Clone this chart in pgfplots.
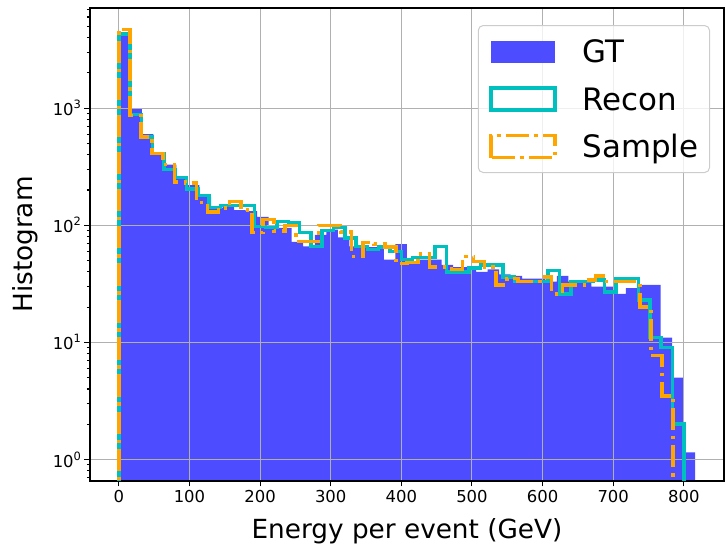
\documentclass[border=0pt]{standalone}
\usepackage{fontspec}
\setmainfont{DejaVu Sans}
\usepackage{pgfplots}
\pgfplotsset{compat=1.18}
\definecolor{gtblue}{RGB}{77,77,255}
\definecolor{reconc}{RGB}{0,191,191}
\definecolor{sampo}{RGB}{255,165,0}
\definecolor{gridc}{RGB}{176,176,176}
\definecolor{legc}{RGB}{204,204,204}
\begin{document}
\begin{tikzpicture}
\begin{axis}[
  set layers,
  scale only axis, width=634bp, height=473bp,
  at={(0,0)}, anchor=south west,
  ymode=log, xmin=-40.8, xmax=856.9, ymin=0.655, ymax=7170,
  const plot,
  xtick={0,100,...,800},
  ytick={1,10,100,1000},
  yticklabels={{10\raisebox{7bp}{\fontsize{11.5}{12}\selectfont 0}},{10\raisebox{7bp}{\fontsize{11.5}{12}\selectfont 1}},{10\raisebox{7bp}{\fontsize{11.5}{12}\selectfont 2}},{10\raisebox{7bp}{\fontsize{11.5}{12}\selectfont 3}}},
  minor ytick={0.7,0.8,0.9,2,3,4,5,6,7,8,9,20,30,40,50,60,70,80,90,200,300,400,500,600,700,800,900,2000,3000,4000,5000,6000,7000},
  /pgf/number format/assume math mode=true,
  ticklabel style={font=\fontsize{16.5}{20}\selectfont},
  grid=major,
  major grid style={color=gridc, line width=1.1bp},
  tick align=outside, tick pos=left,
  major tick length=5.5bp, minor tick length=3.2bp,
  tick style={black, line width=1.1bp},
  axis line style={line width=1.3bp},
  xlabel={Energy per event (GeV)},
  ylabel={Histogram},
  xlabel style={font=\fontsize{26.4}{30}\selectfont, at={(axis description cs:0.5,-0.1057)}, anchor=center},
  ylabel style={font=\fontsize{26.4}{30}\selectfont, at={(axis description cs:-0.1025,0.5)}, anchor=center},
  legend cell align=left,
  legend style={at={(axis description cs:0.978,0.964)}, anchor=north east,
    draw=legc, line width=1bp, rounded corners=5bp, fill=white, fill opacity=0.8, text opacity=1, draw opacity=1,
    font=\fontsize{31}{37}\selectfont,
    inner xsep=11bp, inner ysep=11bp,
    nodes={inner sep=0bp, text height=26bp, text depth=4bp},
    row sep=17.5bp,
    /tikz/every odd column/.append style={column sep=26bp}},
]
\addplot[draw=none, fill=gtblue, on layer=axis background,
  legend image code/.code={\fill[gtblue, fill opacity=1, sharp corners] (0bp,-11bp) rectangle (64bp,11bp);}]
coordinates {
(0,0.655)(0,4400)(16.32,980)(32.64,600)(48.96,420)(65.28,330)(81.6,260)(97.92,220)(114.24,175)(130.56,140)(146.88,145)(163.2,135)(179.52,132)(195.84,118)(212.16,95)(228.48,95)(244.8,72)(261.12,66)(277.44,83)(293.76,92)(310.08,79)(326.4,66)(342.72,65)(359.04,65)(375.36,51)(391.68,69)(408,48)(424.32,51)(440.64,51)(456.96,46)(473.28,44)(489.6,44)(505.92,40)(522.24,42)(538.56,38)(554.88,37)(571.2,35)(587.52,35)(603.84,33)(620.16,37)(636.48,33)(652.8,33)(669.12,30)(685.44,30)(701.76,26)(718.08,29)(734.4,31)(750.72,31)(767.04,11)(783.36,5)(799.68,1.15)(816,1.15)(816,0.655)
};
\addlegendentry{GT}
\addplot[reconc, line width=3.5bp, line join=miter,
  legend image code/.code={\draw[reconc, line width=3.5bp, draw opacity=1, sharp corners] (0bp,-11bp) rectangle (64bp,11bp);}]
coordinates {
(0,0.01)(0,4300)(16,880)(32,570)(48,410)(64,300)(80,255)(96,205)(112,180)(128,142)(144,147)(160,147)(176,147)(192,98)(208,96)(224,108)(240,106)(256,87)(272,66)(288,90)(304,96)(320,78)(336,66)(352,62)(368,65)(384,60)(400,51)(416,53)(432,53)(448,66)(464,40)(480,40)(496,43)(512,46)(528,46)(544,36)(560,33)(576,33)(592,33)(608,41)(624,26)(640,33)(656,33)(672,34)(688,27)(704,35)(720,35)(736,23)(752,11)(768,9)(784,2)(800,2)(800,0.01)
};
\addlegendentry{Recon}
\addplot[sampo, line width=3.5bp, line join=miter, dash pattern=on 22.4bp off 5.6bp on 3.5bp off 5.6bp,
  legend image code/.code={\draw[sampo, line width=3.5bp, draw opacity=1, sharp corners, dash pattern=on 22.4bp off 5.6bp on 3.5bp off 5.6bp] (0bp,-11bp) rectangle (64bp,11bp);}]
coordinates {
(0,0.01)(0,4700)(15.7,870)(31.4,570)(47.1,410)(62.8,330)(78.5,235)(94.2,230)(109.9,156)(125.6,130)(141.3,140)(157,160)(172.7,135)(188.4,87)(204.1,112)(219.8,89)(235.5,100)(251.2,73)(266.9,73)(282.6,100)(298.3,100)(314,88)(329.7,54)(345.4,71)(361.1,69)(376.8,65)(392.5,47)(408.2,48)(423.9,57)(439.6,44)(455.3,44)(471,42)(486.7,54)(502.4,49)(518.1,44)(533.8,31)(549.5,35)(565.2,33)(580.9,33)(596.6,36)(612.3,26)(628,31)(643.7,31)(659.4,34)(675.1,37)(690.8,33)(706.5,33)(722.2,33)(737.9,20)(753.6,7.7)(769.3,3.5)(785,3.5)(785,0.01)
};
\addlegendentry{Sample}
\end{axis}
\pgfresetboundingbox
\path[use as bounding box] (-90bp,-68bp) rectangle (636bp,481bp);
\end{tikzpicture}
\end{document}
